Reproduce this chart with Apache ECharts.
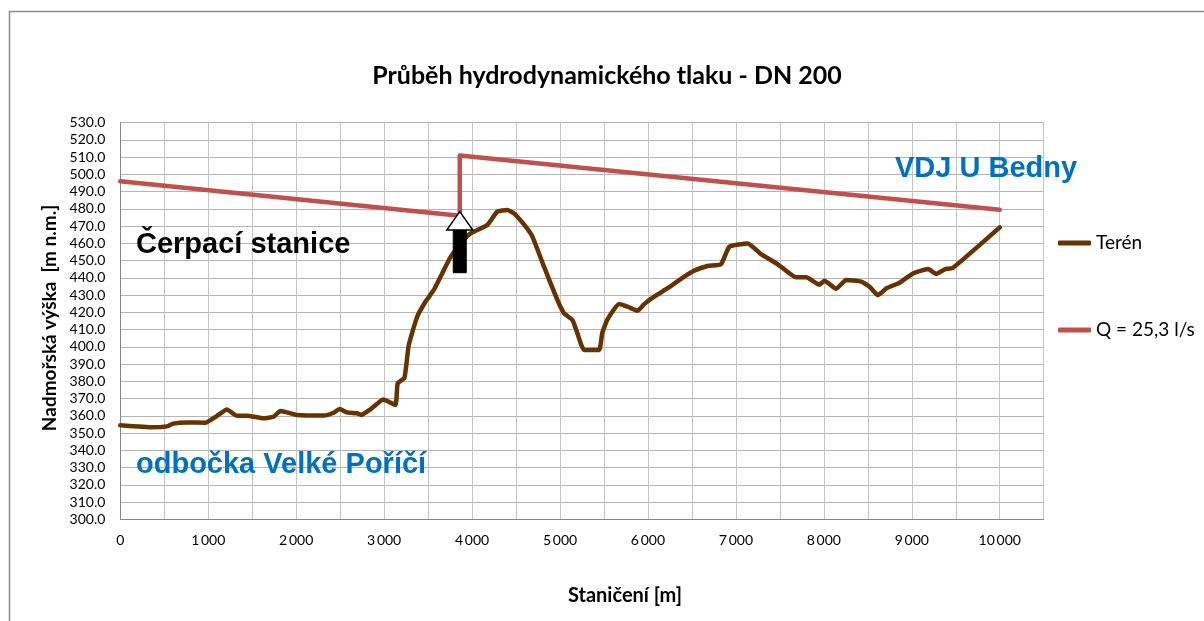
<!DOCTYPE html>
<html>
<head>
<meta charset="utf-8">
<script src="https://cdn.jsdelivr.net/npm/echarts@6/dist/echarts.min.js"></script>
<style>
html,body{margin:0;padding:0;background:#fff;}
#chart{width:1204px;height:621px;}
</style>
</head>
<body>
<div id="chart"></div>
<script>
// ---- data ----
const terrainX = [0,200,340,530,600,760,965,1100,1212,1325,1440,1630,1743,1819,1895,2009,2312,2426,2494,2578,2692,2738,2844,2920,2989,3128,3154,3231,3280,3376,3470,3565,3660,3755,3869,3983,4173,4287,4401,4477,4610,4686,4818,4970,5046,5141,5198,5274,5444,5480,5540,5672,5767,5881,5957,6071,6223,6413,6527,6678,6830,6925,7134,7286,7476,7685,7798,7950,8007,8140,8254,8425,8520,8615,8710,8862,9014,9185,9279,9374,9469,10000];
const terrainY = [354.5,353.8,353.4,353.9,355.5,356.2,356.0,360.0,363.7,360.0,360.0,358.6,359.5,362.8,362.0,360.5,360.2,361.8,364.0,362.0,361.5,360.5,363.8,367.0,369.5,366.3,378.8,382.0,401.0,417.5,426.2,433.0,442.6,452.0,460.0,465.8,470.7,478.4,479.4,477.4,469.7,463.9,446.5,427.2,419.4,415.6,407.8,398.2,398.2,408.0,416.0,424.8,423.3,421.0,424.8,429.1,434.0,440.7,444.2,446.9,447.9,458.0,460.0,453.8,447.9,440.3,440.3,436.0,438.4,433.7,438.8,437.8,434.9,430.0,433.9,437.2,442.6,445.1,442.3,445.0,445.9,469.3];
const pressureX = [0,3860,3860,10000];
const pressureY = [496.0,476.0,511.0,479.5];
const seriesNames = ['Terén','Q = 25,3 l/s'];
const yTicks = {min:300,max:530,step:10};
const xTicks = {min:0,max:10500,step:500,labelStep:1000};
const arrowAnno = {x:3860, base:443.0, neck:467.8, tip:478.4};
const labels = {
  title:'Průběh hydrodynamického tlaku - DN 200',
  xName:'Staničení [m]',
  yName:'Nadmořská výška  [m n.m.]',
  pump:'Čerpací stanice',
  tank:'VDJ U Bedny',
  branch:'odbočka Velké Poříčí'
};

const zip = (xs,ys)=>xs.map((x,i)=>[x,ys[i]]);
const chart = echarts.init(document.getElementById('chart'),null,{renderer:'canvas'});
const calibri = 'Lato, "Open Sans", sans-serif';
const arial = '"Liberation Sans", Arial, sans-serif';

const option = {
  animation:false,
  backgroundColor:'#ffffff',
  grid:{left:120.3,top:122.7,right:160.3,bottom:101.7,containLabel:false},
  xAxis:{
    type:'value',min:xTicks.min,max:xTicks.max,interval:xTicks.step,
    axisLine:{show:true,onZero:false,lineStyle:{color:'#868686',width:1}},
    axisTick:{show:false},
    splitLine:{show:true,lineStyle:{color:'#c4c4c4',width:1}},
    axisLabel:{margin:14,color:'#000',fontFamily:calibri,fontSize:14,
      formatter:v=>{ if(v%xTicks.labelStep!==0||v>10000) return ''; return v>=1000? Math.floor(v/1000)+'\u2009'+String(v%1000).padStart(3,'0') : String(v);}},
  },
  yAxis:{
    type:'value',min:yTicks.min,max:yTicks.max,interval:yTicks.step,
    axisLine:{show:true,lineStyle:{color:'#868686',width:1}},
    axisTick:{show:false},
    splitLine:{show:true,lineStyle:{color:'#b4b4b4',width:1}},
    axisLabel:{margin:15,color:'#000',fontFamily:calibri,fontSize:14,formatter:v=>v.toFixed(1)}
  },
  legend:{
    orient:'vertical',left:1058,top:233,padding:0,itemGap:67,itemWidth:33,itemHeight:5,
    icon:'roundRect',
    textStyle:{fontFamily:calibri,fontSize:19,color:'#000',lineHeight:20},
    data:seriesNames
  },
  series:[
    {name:seriesNames[0],type:'line',data:zip(terrainX,terrainY),showSymbol:false,symbol:'none',
     smooth:0.15,
     lineStyle:{color:'#663300',width:4.5,cap:'round',join:'round'},itemStyle:{color:'#663300'},z:3},
    {name:seriesNames[1],type:'line',data:zip(pressureX,pressureY),showSymbol:false,symbol:'none',
     lineStyle:{color:'#C0504D',width:4.5,cap:'round',join:'round'},itemStyle:{color:'#C0504D'},z:2}
  ]
};
chart.setOption(option);

const px = (x,y)=>chart.convertToPixel({gridIndex:0},[x,y]);
const b = px(arrowAnno.x,arrowAnno.base), n = px(arrowAnno.x,arrowAnno.neck), t = px(arrowAnno.x,arrowAnno.tip);
const shaftHalf = 6.5, headHalf = 13;
chart.setOption({
  graphic:[
    {type:'rect',silent:true,shape:{x:9.5,y:11.5,width:1400,height:800},style:{fill:null,stroke:'#8a8a8a',lineWidth:1.5},z:0},
    {type:'text',silent:true,x:607,y:76,style:{text:labels.title,font:'bold 25px '+calibri,fill:'#000',align:'center',verticalAlign:'middle'}},
    {type:'text',silent:true,x:625,y:596,style:{text:labels.xName,font:'bold 20px '+calibri,fill:'#000',align:'center',verticalAlign:'middle'}},
    {type:'text',silent:true,x:50,y:318,rotation:Math.PI/2,style:{text:labels.yName,font:'bold 19px '+calibri,fill:'#000',align:'center',verticalAlign:'middle'}},
    {type:'text',silent:true,x:136,y:245,z:10,style:{text:labels.pump,font:'bold 29px '+arial,fill:'#000',align:'left',verticalAlign:'middle'}},
    {type:'text',silent:true,x:895,y:169,z:10,style:{text:labels.tank,font:'bold 29px '+arial,fill:'#0070C0',align:'left',verticalAlign:'middle'}},
    {type:'text',silent:true,x:136,y:465,z:10,style:{text:labels.branch,font:'bold 29px '+arial,fill:'#0070C0',align:'left',verticalAlign:'middle'}},
    {type:'rect',silent:true,z:20,shape:{x:b[0]-shaftHalf,y:n[1],width:shaftHalf*2,height:b[1]-n[1]},style:{fill:'#000',stroke:'#000',lineWidth:1}},
    {type:'polygon',silent:true,z:20,shape:{points:[[t[0],t[1]],[t[0]+headHalf,n[1]],[t[0]-headHalf,n[1]]]},style:{fill:'#fff',stroke:'#000',lineWidth:1.5}}
  ]
});
</script>
</body>
</html>
